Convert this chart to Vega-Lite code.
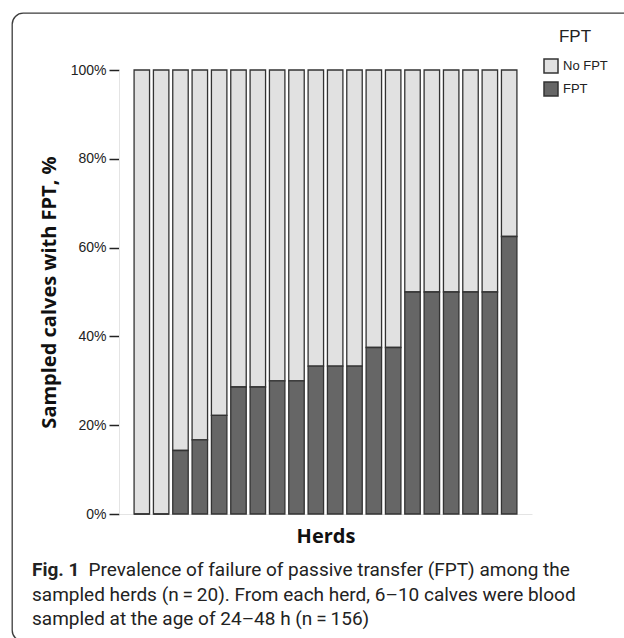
{
  "$schema": "https://vega.github.io/schema/vega-lite/v6.json",
  "autosize": {"type": "none"},
  "padding": {"left": 12, "top": 13, "right": 0, "bottom": 0},
  "width": 640,
  "height": 628,
  "background": "white",
  "config": {
    "view": {"stroke": "#3c3c3c", "strokeWidth": 1.3, "cornerRadius": 11},
    "axis": {"labelFont": "Liberation Sans", "titleFont": "Open Sans"}
  },
  "title": {
    "text": "Fig. 1",
    "subtitle": [
      "\u200b\u00a0\u00a0\u00a0\u00a0\u00a0\u00a0\u00a0\u00a0\u00a0\u00a0\u00a0\u00a0Prevalence of failure of passive transfer (FPT) among the",
      "sampled herds (n\u2009=\u200920). From each herd, 6–10 calves were blood",
      "sampled at the age of 24–48 h (n\u2009=\u2009156)"
    ],
    "orient": "bottom",
    "anchor": "start",
    "frame": "group",
    "offset": -80,
    "dx": 20,
    "font": "Roboto",
    "fontSize": 19,
    "fontWeight": "bold",
    "color": "#222222",
    "subtitleFont": "Roboto",
    "subtitleFontSize": 19,
    "subtitleFontWeight": "normal",
    "subtitleColor": "#222222",
    "subtitleLineHeight": 24.5,
    "subtitlePadding": -19
  },
  "data": {
    "values": [
      {"herd": 1, "FPT": 0, "No FPT": 100},
      {"herd": 2, "FPT": 0, "No FPT": 100},
      {"herd": 3, "FPT": 14.3, "No FPT": 85.7},
      {"herd": 4, "FPT": 16.7, "No FPT": 83.3},
      {"herd": 5, "FPT": 22.2, "No FPT": 77.8},
      {"herd": 6, "FPT": 28.6, "No FPT": 71.4},
      {"herd": 7, "FPT": 28.6, "No FPT": 71.4},
      {"herd": 8, "FPT": 30, "No FPT": 70},
      {"herd": 9, "FPT": 30, "No FPT": 70},
      {"herd": 10, "FPT": 33.3, "No FPT": 66.7},
      {"herd": 11, "FPT": 33.3, "No FPT": 66.7},
      {"herd": 12, "FPT": 33.3, "No FPT": 66.7},
      {"herd": 13, "FPT": 37.5, "No FPT": 62.5},
      {"herd": 14, "FPT": 37.5, "No FPT": 62.5},
      {"herd": 15, "FPT": 50, "No FPT": 50},
      {"herd": 16, "FPT": 50, "No FPT": 50},
      {"herd": 17, "FPT": 50, "No FPT": 50},
      {"herd": 18, "FPT": 50, "No FPT": 50},
      {"herd": 19, "FPT": 50, "No FPT": 50},
      {"herd": 20, "FPT": 62.5, "No FPT": 37.5}
    ]
  },
  "transform": [{"fold": ["No FPT", "FPT"], "as": ["group", "pct"]}],
  "mark": {"type": "bar", "stroke": "#333333", "strokeWidth": 1.3},
  "encoding": {
    "x": {
      "field": "herd",
      "type": "ordinal",
      "scale": {"range": [107, 520], "paddingInner": 0.2, "paddingOuter": 0.78},
      "axis": {
        "title": "Herds",
        "labels": false,
        "ticks": false,
        "offset": -127,
        "domainColor": "#e4e4e4",
        "titleFontSize": 20,
        "titleFontWeight": "bold",
        "titleColor": "#111111",
        "titlePadding": 12
      }
    },
    "y": {
      "field": "pct",
      "type": "quantitative",
      "stack": "zero",
      "scale": {"domain": [0, 100], "range": [501, 57], "nice": false},
      "axis": {
        "title": "Sampled calves with FPT, %",
        "values": [0, 20, 40, 60, 80, 100],
        "labelExpr": "datum.value + '%'",
        "offset": -107,
        "grid": false,
        "domainColor": "#e4e4e4",
        "tickColor": "#222222",
        "tickSize": 10,
        "tickWidth": 1.5,
        "labelPadding": 3,
        "labelFontSize": 14,
        "labelColor": "#222222",
        "titleFontSize": 20,
        "titleFontWeight": "bold",
        "titleColor": "#111111",
        "titlePadding": 11
      }
    },
    "color": {
      "field": "group",
      "type": "nominal",
      "scale": {"domain": ["No FPT", "FPT"], "range": ["#e1e1e1", "#666666"]},
      "legend": {
        "title": "FPT",
        "orient": "none",
        "legendX": 531,
        "legendY": 16,
        "padding": 0,
        "titleAnchor": "middle",
        "titleFont": "Liberation Sans",
        "titleFontSize": 17,
        "titleFontWeight": "normal",
        "titleColor": "#222222",
        "titlePadding": 12,
        "labelFont": "Liberation Sans",
        "labelFontSize": 13,
        "labelColor": "#222222",
        "labelOffset": 4,
        "symbolType": "square",
        "symbolSize": 196,
        "symbolStrokeColor": "#333333",
        "symbolStrokeWidth": 1.5,
        "symbolOpacity": 1,
        "rowPadding": 3
      }
    },
    "order": {"field": "group", "sort": "ascending"}
  }
}
